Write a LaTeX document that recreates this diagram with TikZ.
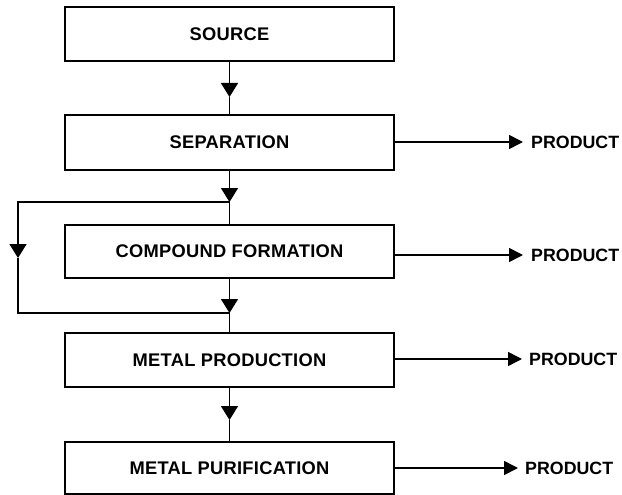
\documentclass[tikz,border=0pt]{standalone}
\usepackage{fontspec}
\setmainfont{Liberation Sans}
\newfontfamily\spacedfont{Liberation Sans}[LetterSpace=1.5]
\usetikzlibrary{arrows.meta}
\begin{document}
\begin{tikzpicture}[x=1pt,y=-1pt,
  lbl/.style={font=\fontsize{18.3}{21}\selectfont\spacedfont\bfseries},
  box/.style={lbl, draw, line width=1.6pt, minimum width=329pt, inner sep=0pt},
  prod/.style={font=\fontsize{17.8}{21}\selectfont\bfseries, anchor=west, inner sep=0pt},
  conn/.style={line width=1.6pt},
  tip/.style={conn, -{Triangle[length=14pt,width=17pt]}},
  ptip/.style={conn, -{Triangle[length=14pt,width=14pt]}}]
\useasboundingbox (0,0) rectangle (622,495);
\fill[white] (0,0) rectangle (622,495);
% boxes
\node[box, minimum height=54pt] (src) at (229.5,34) {SOURCE};
\node[box, minimum height=55pt] (sep) at (229.5,142.5) {SEPARATION};
\node[box, minimum height=53pt] (comp) at (229.5,251.5) {COMPOUND FORMATION};
\node[box, minimum height=54pt] (mp) at (229.5,360) {METAL PRODUCTION};
\node[box, minimum height=52pt] (mpur) at (229.5,468) {METAL PURIFICATION};
% products
\node[prod] (p1) at (531,142) {PRODUCT};
\node[prod] (p2) at (531,255) {PRODUCT};
\node[prod] (p3) at (529,359) {PRODUCT};
\node[prod] (p4) at (525,468) {PRODUCT};
% junction coordinates
\coordinate (a1) at (229.5,97);
\coordinate (j1) at (229.5,202);
\coordinate (j2) at (229.5,313);
\coordinate (l1) at (18,202);
\coordinate (l2) at (18,258);
\coordinate (l3) at (18,313);
\coordinate (a4) at (229.5,420);
% main flow
\draw[tip] (src.south) -- (a1);
\draw[conn] (a1) -- (sep.north);
\draw[tip] (sep.south) -- (j1);
\draw[conn] (j1) -- (comp.north);
\draw[tip] (comp.south) -- (j2);
\draw[conn] (j2) -- (mp.north);
\draw[tip] (mp.south) -- (a4);
\draw[conn] (a4) -- (mpur.north);
% bypass loop
\draw[tip] (j1) -- (l1) -- (l2);
\draw[conn] (l2) -- (l3) -- (j2);
% product arrows
\draw[ptip, shorten >=8pt] (p1.west -| sep.east) -- (p1.west);
\draw[ptip, shorten >=8pt] (p2.west -| comp.east) -- (p2.west);
\draw[ptip, shorten >=7pt] (p3.west -| mp.east) -- (p3.west);
\draw[ptip, shorten >=7pt] (p4.west -| mpur.east) -- (p4.west);
\end{tikzpicture}
\end{document}
